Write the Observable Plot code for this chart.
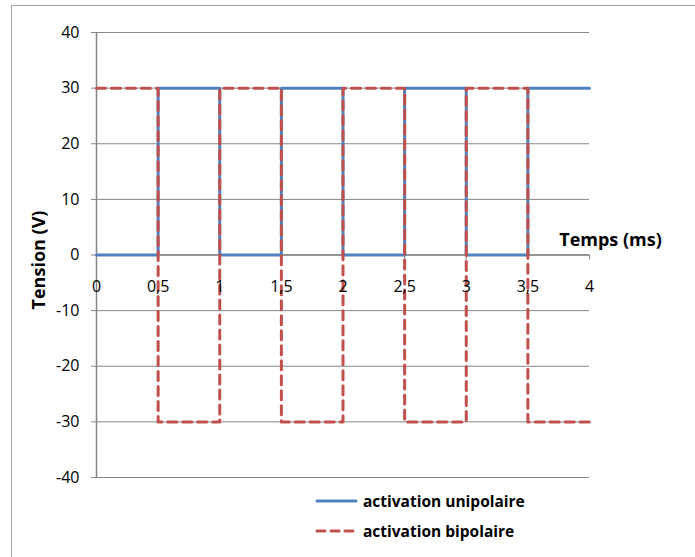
<!DOCTYPE html>
<html>
<head>
<meta charset="utf-8">
<script src="https://cdn.jsdelivr.net/npm/d3@7"></script>
<script src="https://cdn.jsdelivr.net/npm/@observablehq/plot@0.6"></script>
<style>
  html, body { margin: 0; padding: 0; background: #fff; overflow: hidden; }
  #wrap { position: relative; width: 695px; height: 557px; overflow: hidden; font-family: "Open Sans", Lato, sans-serif; }
  #border { position: absolute; left: 11px; top: 5px; width: 800px; height: 700px; border: 1.5px solid #a6a6a6; box-sizing: border-box; pointer-events: none; }
  #legend { position: absolute; left: 315px; top: 486px; font-weight: bold; font-size: 15.5px; color: #000; }
  .item { display: flex; align-items: center; height: 30px; }
</style>
</head>
<body>
<div id="wrap"><div id="border"></div><div id="legend"></div></div>
<script>
const temps = [0, 0.5, 1, 1.5, 2, 2.5, 3, 3.5, 4];
const unipolaire = [0, 30, 0, 30, 0, 30, 0, 30, 30];
const bipolaire = [30, -30, 30, -30, 30, -30, 30, -30, -30];
const xTicks = [0, 0.5, 1, 1.5, 2, 2.5, 3, 3.5, 4];
const xTickLabels = ["0", "0,5", "1", "1,5", "2", "2,5", "3", "3,5", "4"];
const yTicks = [-40, -30, -20, -10, 0, 10, 20, 30, 40];
const seriesNames = ["activation unipolaire", "activation bipolaire"];
const seriesColors = ["#4F81BD", "#C0504D"];

const uni = temps.map((t, i) => ({t, v: unipolaire[i]}));
const bi = temps.map((t, i) => ({t, v: bipolaire[i]}));
const xt = xTicks.map((x, i) => ({x, label: xTickLabels[i]}));

const chart = Plot.plot({
  width: 695,
  height: 557,
  marginLeft: 96,
  marginRight: 106,
  marginTop: 32,
  marginBottom: 80,
  style: {fontFamily: "'Open Sans', Lato, sans-serif", fontSize: "16px", color: "#000", background: "transparent"},
  x: {domain: [0, 4], axis: null},
  y: {domain: [-40, 40], ticks: yTicks, axis: null},
  marks: [
    Plot.gridY(yTicks, {stroke: "#868686", strokeOpacity: 1, strokeWidth: 1}),
    Plot.axisY(yTicks, {label: null, tickSize: 5, tickPadding: 12, stroke: "#868686", strokeOpacity: 1, fontSize: 16, tickFormat: d => d < 0 ? "-" + Math.abs(d) : String(d)}),
    Plot.ruleX([0], {stroke: "#868686", strokeWidth: 1.5}),
    Plot.ruleY([0], {stroke: "#868686", strokeWidth: 1.5}),
    Plot.ruleX(xt, {x: "x", y1: 0, y2: -0.9, stroke: "#868686", strokeWidth: 1}),
    Plot.line(uni, {x: "t", y: "v", curve: "step-after", stroke: seriesColors[0], strokeWidth: 3}),
    Plot.line(bi, {x: "t", y: "v", curve: "step-after", stroke: seriesColors[1], strokeWidth: 3, strokeDasharray: "9,6", strokeLinecap: "round"}),
    Plot.text(xt, {x: "x", y: 0, text: "label", dy: 32, fontSize: 16, lineAnchor: "middle", fill: "#000"}),
    Plot.text(["Temps (ms)"], {x: 4, y: 0, dx: 21, dy: -15, text: d => d, fontWeight: "bold", fontSize: 18, lineAnchor: "middle", textAnchor: "middle", fill: "#000"}),
    Plot.text(["Tension (V)"], {frameAnchor: "left", dx: -57, dy: 5, rotate: -90, text: d => d, fontWeight: "bold", fontSize: 18, lineAnchor: "middle", textAnchor: "middle", fill: "#000"})
  ]
});
const wrap = document.getElementById("wrap");
chart.style.position = "absolute";
chart.style.left = "0";
chart.style.top = "0";
wrap.insertBefore(chart, wrap.firstChild);

const legend = document.getElementById("legend");
seriesNames.forEach((name, i) => {
  const item = document.createElement("div");
  item.className = "item";
  const ns = "http://www.w3.org/2000/svg";
  const sw = document.createElementNS(ns, "svg");
  sw.setAttribute("width", "43");
  sw.setAttribute("height", "6");
  sw.style.marginRight = "5px";
  const ln = document.createElementNS(ns, "line");
  ln.setAttribute("x1", "2"); ln.setAttribute("x2", i === 1 ? "38" : "41");
  ln.setAttribute("y1", "3"); ln.setAttribute("y2", "3");
  ln.setAttribute("stroke", seriesColors[i]);
  ln.setAttribute("stroke-width", "3");
  ln.setAttribute("stroke-linecap", "round");
  if (i === 1) ln.setAttribute("stroke-dasharray", "8,6");
  sw.appendChild(ln);
  const label = document.createElement("span");
  label.textContent = name;
  item.appendChild(sw);
  item.appendChild(label);
  legend.appendChild(item);
});
</script>
</body>
</html>
